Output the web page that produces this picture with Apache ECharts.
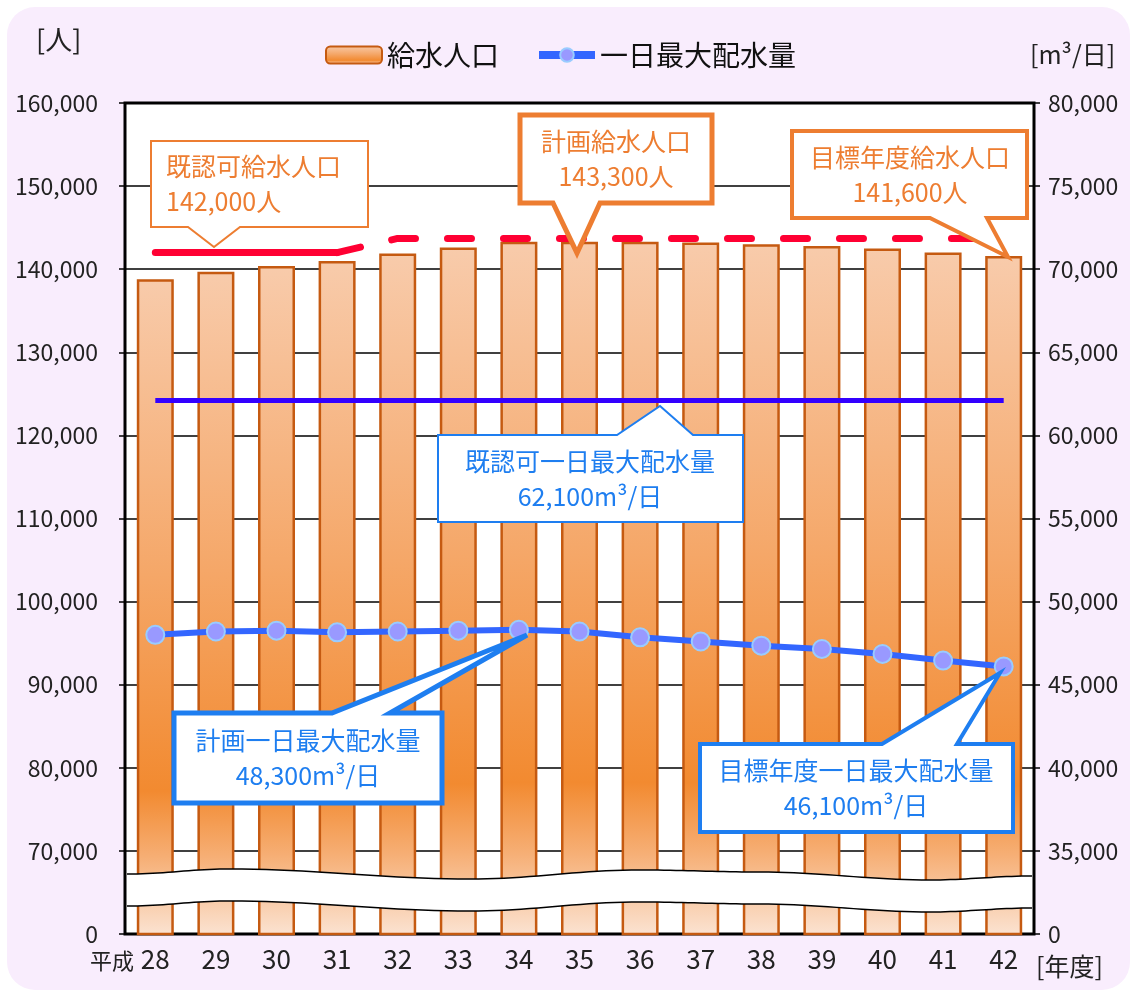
<!DOCTYPE html>
<html>
<head>
<meta charset="utf-8">
<script src="https://cdn.jsdelivr.net/npm/echarts@6/dist/echarts.min.js"></script>
<style>
  html, body { margin: 0; padding: 0; background: #fff; }
  #bg { position: absolute; left: 7px; top: 7px; width: 1123px; height: 983px; background: #f9edfd; border-radius: 28px; }
  #chart { position: absolute; left: 0; top: 0; width: 1136px; height: 994px; }
</style>
</head>
<body>
<div id="bg"></div>
<div id="chart"></div>
<script>
const years = ['28', '29', '30', '31', '32', '33', '34', '35', '36', '37', '38', '39', '40', '41', '42'];
const population = [138800, 139700, 140400, 141000, 141900, 142600, 143300, 143300, 143300, 143200, 143000, 142800, 142500, 142000, 141600];
const maxSupply = [48000, 48200, 48250, 48150, 48200, 48250, 48300, 48200, 47850, 47600, 47350, 47150, 46850, 46450, 46100];
const approvedPop = [142000, 142000, 142000, 142000, null, null, null, null, null, null, null, null, null, null, null];
const plannedPop = [null, null, null, 142000, 143700, 143700, 143700, 143700, 143700, 143700, 143700, 143700, 143700, 143700, 143700];
const approvedSupply = [62100, 62100, 62100, 62100, 62100, 62100, 62100, 62100, 62100, 62100, 62100, 62100, 62100, 62100, 62100];

const FONT = '"Noto Sans CJK JP", "Noto Sans", sans-serif';
const ORANGE = '#ed7d31';
const BLUE = '#1e7ef0';

function fmt(v) {
    return String(v).replace(/\B(?=(\d{3})+(?!\d))/g, ',');
}

// wavy break band (decoration): control points of the top edge, cosine-interpolated
const waveCtrl = [[127, 874], [230, 869], [470, 879], [640, 870], [760, 872], [930, 880], [1032, 876]];
function wave(dy) {
    const pts = [];
    for (let i = 0; i < waveCtrl.length - 1; i++) {
        const a = waveCtrl[i], b = waveCtrl[i + 1];
        for (let s = 0; s < 20; s++) {
            const t = s / 20;
            const k = (1 - Math.cos(Math.PI * t)) / 2;
            pts.push([a[0] + (b[0] - a[0]) * t, a[1] + (b[1] - a[1]) * k + dy]);
        }
    }
    const last = waveCtrl[waveCtrl.length - 1];
    pts.push([last[0], last[1] + dy]);
    return pts;
}
const waveTop = wave(0);
const waveBottom = wave(32);

function callout(points, color, lineWidth) {
    return {
        type: 'polygon',
        z: 100,
        shape: { points: points },
        style: { fill: '#fff', stroke: color, lineWidth: lineWidth, lineJoin: 'miter' }
    };
}
function calloutText(x, y, text, color, align) {
    return {
        type: 'text',
        z: 101,
        x: x,
        y: y,
        style: {
            text: text,
            fill: color,
            font: '25px ' + FONT,
            align: align || 'center',
            verticalAlign: 'middle',
            lineHeight: 35
        }
    };
}
function label(x, y, text, size, align) {
    return {
        type: 'text',
        z: 100,
        x: x,
        y: y,
        style: { text: text, fill: '#222', font: size + 'px ' + FONT, align: align || 'left', verticalAlign: 'middle' }
    };
}

const chart = echarts.init(document.getElementById('chart'));

const option = {
    backgroundColor: 'transparent',
    textStyle: { fontFamily: FONT },
    grid: {
        left: 125,
        right: 102,
        top: 103,
        bottom: 60,
        show: true,
        backgroundColor: '#fff',
        borderColor: '#000',
        borderWidth: 3
    },
    legend: {
        data: [
            { name: '給水人口' },
            { name: '一日最大配水量', lineStyle: { width: 8 } }
        ],
        left: 320,
        top: 36,
        itemWidth: 56,
        itemHeight: 17,
        itemGap: 36,
        textStyle: { fontSize: 28, color: '#111', fontFamily: FONT }
    },
    xAxis: {
        type: 'category',
        data: years,
        axisLine: { show: false },
        axisTick: { show: false },
        axisLabel: { fontSize: 26, color: '#222', margin: 12, fontFamily: FONT }
    },
    yAxis: [
        {
            type: 'value',
            min: 60000,
            max: 160000,
            interval: 10000,
            axisLine: { show: false },
            axisTick: { show: true, length: 6, lineStyle: { color: '#000', width: 1.5 } },
            splitLine: { show: true, lineStyle: { color: '#000', width: 1.5 } },
            axisLabel: {
                fontSize: 23,
                color: '#222',
                margin: 27,
                fontFamily: FONT,
                formatter: function (v) { return v === 60000 ? '0' : fmt(v); }
            }
        },
        {
            type: 'value',
            min: 30000,
            max: 80000,
            interval: 5000,
            axisLine: { show: false },
            axisTick: { show: true, length: 6, lineStyle: { color: '#000', width: 1.5 } },
            splitLine: { show: false },
            axisLabel: {
                fontSize: 23,
                color: '#222',
                margin: 14,
                fontFamily: FONT,
                formatter: function (v) { return v === 30000 ? '0' : fmt(v); }
            }
        }
    ],
    series: [
        {
            name: '給水人口',
            type: 'bar',
            data: population,
            barWidth: 37,
            itemStyle: {
                color: new echarts.graphic.LinearGradient(0, 0, 0, 1, [
                    { offset: 0, color: '#f8cbab' },
                    { offset: 0.45, color: '#f5a768' },
                    { offset: 0.78, color: '#f28a30' },
                    { offset: 0.88, color: '#f6ae74' },
                    { offset: 1, color: '#fbe3d2' }
                ]),
                borderColor: '#c55a11',
                borderWidth: 2.5
            }
        },
        {
            name: '既認可給水人口',
            type: 'line',
            data: approvedPop,
            symbol: 'none',
            z: 5,
            lineStyle: { color: '#ff0033', width: 7, cap: 'round' }
        },
        {
            name: '計画給水人口',
            type: 'line',
            data: plannedPop,
            symbol: 'none',
            z: 5,
            lineStyle: { color: '#ff0033', width: 7, cap: 'round', type: [24, 32] }
        },
        {
            name: '既認可一日最大配水量',
            type: 'line',
            yAxisIndex: 1,
            data: approvedSupply,
            symbol: 'none',
            z: 5,
            lineStyle: { color: '#3300ff', width: 5 }
        },
        {
            name: '一日最大配水量',
            type: 'line',
            yAxisIndex: 1,
            data: maxSupply,
            symbol: 'circle',
            symbolSize: 18,
            z: 6,
            itemStyle: { color: '#9999ff', borderColor: '#99ccff', borderWidth: 2 },
            lineStyle: { color: '#3366ff', width: 6 }
        }
    ],
    graphic: [
        // axis break band
        {
            type: 'polygon',
            z: 50,
            shape: { points: waveTop.concat(waveBottom.slice().reverse()) },
            style: { fill: '#fff', stroke: null }
        },
        {
            type: 'polyline',
            z: 51,
            shape: { points: waveTop },
            style: { fill: null, stroke: '#000', lineWidth: 1.5 }
        },
        {
            type: 'polyline',
            z: 51,
            shape: { points: waveBottom },
            style: { fill: null, stroke: '#000', lineWidth: 1.5 }
        },
        // axis names
        label(36, 40, '[人]', 27),
        label(1030, 54, '[m³/日]', 25),
        label(1036, 966, '[年度]', 25),
        label(90, 961, '平成', 22),
        // orange callouts
        callout([[151, 141], [368, 141], [368, 227], [240, 227], [214, 247], [188, 227], [151, 227]], ORANGE, 2),
        calloutText(166, 184, '既認可給水人口\n142,000人', ORANGE, 'left'),
        callout([[520, 115], [712, 115], [712, 203], [600, 203], [577, 253], [553, 203], [520, 203]], ORANGE, 5),
        calloutText(616, 159, '計画給水人口\n143,300人', ORANGE),
        callout([[792, 131], [1027, 131], [1027, 218], [987, 218], [1008, 257], [930, 218], [792, 218]], ORANGE, 4),
        calloutText(910, 175, '目標年度給水人口\n141,600人', ORANGE),
        // blue callouts
        callout([[438, 435], [617, 435], [660, 406], [693, 435], [743, 435], [743, 522], [438, 522]], BLUE, 2),
        calloutText(590, 479, '既認可一日最大配水量\n62,100m³/日', BLUE),
        callout([[174, 713], [332, 713], [527, 635], [390, 713], [442, 713], [442, 803], [174, 803]], BLUE, 5),
        calloutText(308, 758, '計画一日最大配水量\n48,300m³/日', BLUE),
        callout([[700, 744], [882, 744], [1000, 673], [957, 744], [1013, 744], [1013, 832], [700, 832]], BLUE, 4),
        calloutText(856, 788, '目標年度一日最大配水量\n46,100m³/日', BLUE)
    ]
};

chart.setOption(option);

window.addEventListener('resize', _ => {
    chart.resize();
});
</script>
</body>
</html>
